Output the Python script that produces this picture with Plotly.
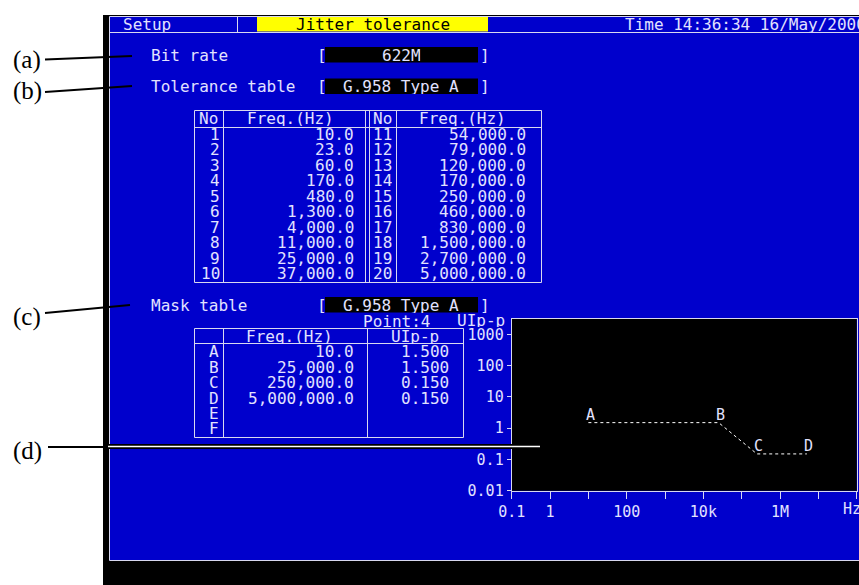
import numpy as np
import plotly.graph_objects as go

# ---------------- data ----------------
bit_rate = "622M"
tolerance_table = "G.958 Type A"
mask_table = "G.958 Type A"
header_left = "Setup"
header_title = "Jitter tolerance"
header_time = "Time 14:36:34 16/May/2000"

tol_no = [1, 2, 3, 4, 5, 6, 7, 8, 9, 10, 11, 12, 13, 14, 15, 16, 17, 18, 19, 20]
tol_freq = [10, 23, 60, 170, 480, 1300, 4000, 11000, 25000, 37000,
            54000, 79000, 120000, 170000, 250000, 460000, 830000,
            1500000, 2700000, 5000000]

mask_pts = ["A", "B", "C", "D", "E", "F"]
mask_freq = [10, 25000, 250000, 5000000]
mask_ui = [1.5, 1.5, 0.15, 0.15]

x_tickvals = [0.1, 1, 10, 100, 1e3, 1e4, 1e5, 1e6, 1e7, 1e8]
x_ticktext = ["0.1", "1", "", "100", "", "10k", "", "1M", "", ""]
x_unit = "Hz"
y_tickvals = [0.01, 0.1, 1, 10, 100, 1000]
y_ticktext = ["0.01", "0.1", "1", "10", "100", "1000"]

callouts = ["(a)", "(b)", "(c)", "(d)"]

# ---------------- style ----------------
W, H = 859, 585
BLUE = "#0000cc"
FG = "#e2e2ff"
LINE = "#d8d8f0"
MONO = "DejaVu Sans Mono"
SERIF = "Liberation Serif"


def px(x):
    return x / W


def py(y):
    return 1 - y / H


shapes = []
annots = []


def rect(x0, y0, x1, y1, fill, line=None, lw=0, layer="below"):
    shapes.append(dict(type="rect", xref="paper", yref="paper",
                       x0=px(x0), x1=px(x1), y0=py(y1), y1=py(y0),
                       fillcolor=fill, layer=layer,
                       line=dict(width=lw, color=line or fill)))


def seg(x0, y0, x1, y1, color=LINE, w=1, layer="below"):
    shapes.append(dict(type="line", xref="paper", yref="paper",
                       x0=px(x0), x1=px(x1), y0=py(y0), y1=py(y1),
                       layer=layer, line=dict(width=w, color=color)))


def text(x, y, s, anchor="left", color=FG, size=16, family=MONO, h=15):
    a = dict(xref="paper", yref="paper", x=px(x), y=py(y), text=s,
             showarrow=False, xanchor=anchor, yanchor="middle",
             borderpad=0, borderwidth=0, valign="middle",
             font=dict(family=family, size=size, color=color))
    if h:
        a["height"] = h
    annots.append(a)


# screen frame
rect(103, 15, 859, 585, "black")
rect(109.5, 16.5, 860, 560.5, BLUE, line=LINE, lw=1)

# header bar
seg(109, 32.5, 859, 32.5)
seg(237.5, 16, 237.5, 32.5)
rect(257, 17, 488, 31.5, "#ffff00")
text(123, 24.5, header_left)
text(372.5, 24.5, header_title, anchor="center", color="black")
text(625, 24.5, header_time)

# settings rows
rows = [("Bit rate", 55, bit_rate, "right"),
        ("Tolerance table", 86.5, tolerance_table, "left"),
        ("Mask table", 305, mask_table, "left")]
for label, yy, val, al in rows:
    text(151, yy, label)
    text(316.5, yy, "[")
    rect(325, yy - 8, 478, yy + 7.5, "black")
    if al == "right":
        text(421, yy, val, anchor="right")
    else:
        text(343, yy, val)
    text(480, yy, "]")

# tolerance table frame
T0, T1, TH = 110.5, 282.5, 127.5
rect(194.5, T0, 541.5, T1, "rgba(0,0,0,0)", line=LINE, lw=1)
seg(194.5, TH, 541.5, TH)
for xv in [223.5, 365.5, 369.5, 396.5]:
    seg(xv, T0, xv, T1)
text(208.5, 119, "No", anchor="center")
text(290, 119, "Freq.(Hz)", anchor="center")
text(382, 119, "No", anchor="center")
text(462, 119, "Freq.(Hz)", anchor="center")
row_y0, row_dy = 134.3, 15.49
for i in range(10):
    yy = row_y0 + i * row_dy
    text(220, yy, str(tol_no[i]), anchor="right")
    text(353.5, yy, f"{tol_freq[i]:,.1f}", anchor="right")
    text(392, yy, str(tol_no[i + 10]), anchor="right")
    text(526, yy, f"{tol_freq[i + 10]:,.1f}", anchor="right")

# mask table frame
M0, M1, MH = 328.5, 437.5, 343.5
rect(194.5, M0, 463.5, M1, "rgba(0,0,0,0)", line=LINE, lw=1)
seg(194.5, MH, 463.5, MH)
for xv in [223.5, 367.5]:
    seg(xv, M0, xv, M1)
text(289.5, 336, "Freq.(Hz)", anchor="center")
text(415, 336, "UIp-p", anchor="center")
m_y0, m_dy = 351.7, 15.46
for i, p in enumerate(mask_pts):
    yy = m_y0 + i * m_dy
    text(219, yy, p, anchor="right")
    if i < len(mask_freq):
        text(353.5, yy, f"{mask_freq[i]:,.1f}", anchor="right")
        text(449, yy, f"{mask_ui[i]:.3f}", anchor="right")

text(363, 321, f"Point:{len(mask_freq)}", h=13)
text(457, 320, "UIp-p", h=13)
text(861, 508, x_unit, anchor="right", size=15)

# plot background (black) drawn over the blue panel
shapes.append(dict(type="rect", xref="x domain", yref="y domain",
                   x0=0, x1=1, y0=0, y1=1, fillcolor="black",
                   line=dict(width=0), layer="below"))

# callout labels and leader lines
call_pos = [((45, 59.5), (132, 56), 60), ((45, 92), (132, 86), 91),
            ((45, 313), (130, 305), 317), ((48, 447), (108, 447), 451)]
for lab, (p0, p1, ty) in zip(callouts, call_pos):
    text(27, ty, lab, anchor="center", color="black", size=25, family=SERIF,
         h=None)
    seg(p0[0], p0[1], p1[0], p1[1], color="black", w=2, layer="above")
seg(106, 446.5, 540, 446.5, color="black", w=5, layer="above")
seg(108, 446.5, 540, 446.5, color="white", w=1.5, layer="above")

# point labels on the chart (positioned by data through the axes)
for i in range(len(mask_freq)):
    annots.append(dict(xref="x", yref="y", x=np.log10(mask_freq[i]),
                       y=np.log10(mask_ui[i]), text=mask_pts[i],
                       showarrow=False, xanchor="center", yanchor="middle",
                       xshift=2, yshift=8, borderpad=0, borderwidth=0,
                       font=dict(family=MONO, size=15, color=FG)))

fig = go.Figure()
fig.add_trace(go.Scatter(x=mask_freq, y=mask_ui, mode="lines",
                         line=dict(color="white", width=1, dash="dot"),
                         hoverinfo="skip", showlegend=False))

axis_common = dict(showline=True, mirror=True, linecolor=LINE, linewidth=1,
                   ticks="outside", tickcolor=LINE, showgrid=False,
                   automargin=False,
                   zeroline=False, tickfont=dict(family=MONO, size=15, color=FG))

fig.update_layout(
    width=W, height=H, autosize=False,
    margin=dict(l=0, r=0, t=0, b=0, pad=0),
    paper_bgcolor="white", plot_bgcolor="black",
    showlegend=False,
    shapes=shapes, annotations=annots,
    xaxis=dict(type="log", range=[-1, 8],
               domain=[511.7 / W, 856.7 / W],
               tickvals=x_tickvals, ticktext=x_ticktext, ticklen=7,
               **axis_common),
    yaxis=dict(type="log", range=[-2, 3.49],
               domain=[1 - 490.7 / H, 1 - 319 / H],
               tickvals=y_tickvals, ticktext=y_ticktext, ticklen=4,
               **axis_common),
)

fig.write_html("out.html", config={"displayModeBar": False})
